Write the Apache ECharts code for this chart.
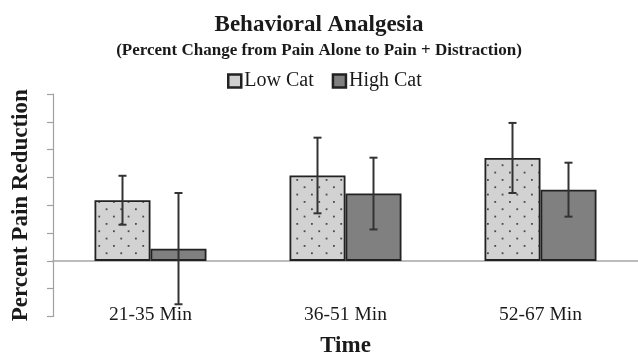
<!DOCTYPE html>
<html>
<head>
<meta charset="utf-8">
<style>html,body{margin:0;padding:0;background:#fff;}#c{width:638px;height:363px;}</style>
<script src="https://cdn.jsdelivr.net/npm/echarts@6/dist/echarts.min.js"></script>
</head>
<body>
<div id="c"></div>
<script>
const categories = ['21-35 Min', '36-51 Min', '52-67 Min'];
const seriesNames = ['Low Cat', 'High Cat'];
const lowCat = [2.18, 3.07, 3.70];
const highCat = [0.44, 2.42, 2.56];
const lowCatErr = [0.88, 1.36, 1.26];
const highCatErr = [2.00, 1.29, 0.97];
const yMin = -2, yMax = 6, yInterval = 1;

const FONT = '"Liberation Serif", "Times New Roman", serif';
const BAR_W = 56;

function dotPattern() {
  const s = 44, step = s / 3;
  const cv = document.createElement('canvas');
  cv.width = s; cv.height = s;
  const ctx = cv.getContext('2d');
  ctx.fillStyle = '#d2d2d2';
  ctx.fillRect(0, 0, s, s);
  ctx.fillStyle = '#4a4a4a';
  for (let i = 0; i < 3; i++) {
    for (let j = 0; j < 3; j++) {
      const x = i * step + 3, y = j * step + 3;
      ctx.fillRect(x, y, 1.8, 1.8);
      ctx.fillRect(x + step / 2, y + step / 2, 1.8, 1.8);
    }
  }
  return cv;
}

function errRenderer(sign) {
  return function (params, api) {
    const i = api.value(0);
    const top = api.coord([i, api.value(2)]);
    const bot = api.coord([i, api.value(1)]);
    const x = top[0] + sign * BAR_W / 2;
    const cap = 4;
    const st = { stroke: '#333', lineWidth: 2 };
    return {
      type: 'group',
      children: [
        { type: 'line', shape: { x1: x, y1: top[1], x2: x, y2: bot[1] }, style: st },
        { type: 'line', shape: { x1: x - cap, y1: top[1], x2: x + cap, y2: top[1] }, style: st },
        { type: 'line', shape: { x1: x - cap, y1: bot[1], x2: x + cap, y2: bot[1] }, style: st }
      ]
    };
  };
}

const chart = echarts.init(document.getElementById('c'), null, { renderer: 'canvas' });
const pattern = { image: dotPattern(), repeat: 'repeat' };

chart.setOption({
  animation: false,
  backgroundColor: '#fff',
  textStyle: { fontFamily: FONT },
  title: [
    { text: 'Behavioral Analgesia', left: 'center', top: 9,
      textStyle: { fontFamily: FONT, fontWeight: 'bold', fontSize: 23, color: '#1a1a1a' } },
    { text: '(Percent Change from Pain Alone to Pain + Distraction)', left: 'center', top: 37,
      textStyle: { fontFamily: FONT, fontWeight: 'bold', fontSize: 17, color: '#1a1a1a' } }
  ],
  legend: {
    left: 222, top: 66,
    itemWidth: 13, itemHeight: 13, itemGap: 18,
    textStyle: { fontFamily: FONT, fontSize: 20, color: '#1a1a1a', padding: [0, 0, 0, -2] },
    data: [
      { name: seriesNames[0], icon: 'rect', itemStyle: { color: '#cfcfcf', borderColor: '#222', borderWidth: 2.5 } },
      { name: seriesNames[1], icon: 'rect', itemStyle: { color: '#808080', borderColor: '#222', borderWidth: 2.5 } }
    ]
  },
  grid: { left: 53, top: 94, width: 590.4, height: 231 },
  xAxis: [
    {
      type: 'category', data: categories, position: 'bottom',
      axisLine: { show: false, onZero: false }, axisTick: { show: false },
      axisLabel: { fontFamily: FONT, fontSize: 19.5, color: '#1a1a1a', margin: -2, verticalAlign: 'middle' },
      name: 'Time', nameLocation: 'middle', nameGap: 30,
      nameTextStyle: { fontFamily: FONT, fontWeight: 'bold', fontSize: 23, color: '#1a1a1a', verticalAlign: 'middle' }
    },
    {
      type: 'category', data: categories,
      axisLine: { show: true, onZero: true, lineStyle: { color: '#a6a6a6', width: 1.5 } },
      axisTick: { show: false }, axisLabel: { show: false }
    }
  ],
  yAxis: {
    type: 'value', min: yMin, max: yMax, interval: yInterval,
    axisLine: { show: true, lineStyle: { color: '#a0a0a0', width: 1.2 } },
    axisTick: { show: true, length: 6, lineStyle: { color: '#a0a0a0', width: 1.2 } },
    axisLabel: { show: false },
    splitLine: { show: false },
    name: 'Percent Pain Reduction', nameLocation: 'middle', nameGap: 32, nameRotate: 90,
    nameTextStyle: { fontFamily: FONT, fontWeight: 'bold', fontSize: 23, color: '#1a1a1a', verticalAlign: 'middle' }
  },
  series: [
    {
      name: seriesNames[0], type: 'bar', xAxisIndex: 0, data: lowCat,
      barWidth: BAR_W, barGap: '0%',
      itemStyle: { color: pattern, borderColor: '#222', borderWidth: 1.8 }
    },
    {
      name: seriesNames[1], type: 'bar', xAxisIndex: 0, data: highCat,
      barWidth: BAR_W, barGap: '0%',
      itemStyle: { color: '#808080', borderColor: '#222', borderWidth: 1.8 }
    },
    {
      name: 'lowErr', type: 'custom', xAxisIndex: 0, z: 5,
      renderItem: errRenderer(-1), encode: { x: 0, y: [1, 2] },
      data: categories.map((c, i) => [i, lowCat[i] - lowCatErr[i], lowCat[i] + lowCatErr[i]])
    },
    {
      name: 'highErr', type: 'custom', xAxisIndex: 0, z: 5,
      renderItem: errRenderer(1), encode: { x: 0, y: [1, 2] },
      data: categories.map((c, i) => [i, highCat[i] - highCatErr[i], highCat[i] + highCatErr[i]])
    }
  ]
});
</script>
</body>
</html>
